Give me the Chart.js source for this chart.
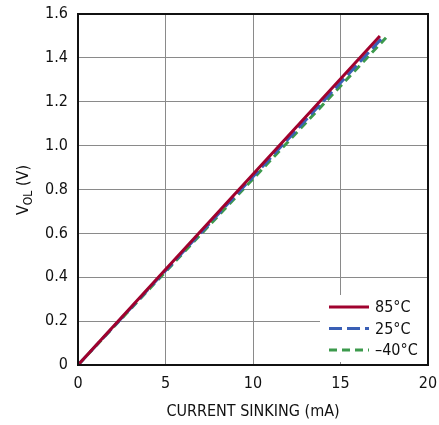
<!DOCTYPE html>
<html>
<head>
<meta charset="utf-8">
<script src="https://cdn.jsdelivr.net/npm/chart.js@4/dist/chart.umd.min.js"></script>
<style>
  html, body { margin: 0; padding: 0; background: #fff; }
  #wrap { width: 439px; height: 425px; }
</style>
</head>
<body>
<div id="wrap"><canvas id="chart" width="439" height="425"></canvas></div>
<script>
/* ---------- DATA ---------- */
const seriesLabels = ['85°C', '25°C', '–40°C'];
const currentMa = [
  [0, 5, 10, 17.25],
  [0, 5, 10, 17.45],
  [0, 5, 10, 17.6]
];
const volOut = [
  [0, 0.435, 0.87, 1.50],
  [0, 0.43, 0.858, 1.497],
  [0, 0.425, 0.848, 1.492]
];
const xTicks = [0, 5, 10, 15, 20];
const yTicks = [0, 0.2, 0.4, 0.6, 0.8, 1.0, 1.2, 1.4, 1.6];

const colors = ['#a0022e', '#3a5fb5', '#3c9a4c'];
const dashes = [[], [13, 5], [8, 5]];
const FONT = "'Liberation Sans Narrow', 'DejaVu Sans Condensed', 'Liberation Sans', Arial, sans-serif";

/* ---------- CUSTOM DRAWING (legend, y title, frame) ---------- */
const extras = {
  id: 'extras',
  afterDraw(chart) {
    const { ctx, chartArea: a } = chart;
    ctx.save();

    // legend area (white, no border)
    const bx = 320, by = 295;
    ctx.fillStyle = '#fff';
    ctx.fillRect(bx, by, a.right - bx, a.bottom - 3 - by);
    ctx.font = '16px ' + FONT;
    ctx.textBaseline = 'middle';
    seriesLabels.forEach((lbl, i) => {
      const y = 307 + i * 21.5;
      ctx.strokeStyle = colors[i];
      ctx.lineWidth = 3;
      ctx.setLineDash(dashes[i]);
      ctx.beginPath();
      ctx.moveTo(329, y);
      ctx.lineTo(369, y);
      ctx.stroke();
      ctx.setLineDash([]);
      ctx.fillStyle = '#111';
      ctx.textAlign = 'left';
      ctx.fillText(lbl, 375, y + 1);
    });

    // frame
    ctx.strokeStyle = '#111';
    ctx.lineWidth = 2;
    ctx.strokeRect(a.left, a.top, a.right - a.left, a.bottom - a.top);

    // y title V_OL (V)
    ctx.translate(22, 190);
    ctx.rotate(-Math.PI / 2);
    ctx.fillStyle = '#111';
    ctx.textBaseline = 'alphabetic';
    const p1 = 'V', p3 = ' (V)';
    ctx.font = '12px ' + FONT;
    const w2 = ctx.measureText('OL').width;
    ctx.font = '16px ' + FONT;
    const w1 = ctx.measureText(p1).width, w3 = ctx.measureText(p3).width;
    let x = -(w1 + w2 + w3) / 2;
    ctx.textAlign = 'left';
    ctx.fillText(p1, x, 6); x += w1;
    ctx.font = '12px ' + FONT;
    ctx.fillText('OL', x, 10); x += w2;
    ctx.font = '16px ' + FONT;
    ctx.fillText(p3, x, 6);

    ctx.restore();
  }
};

/* ---------- CHART ---------- */
new Chart(document.getElementById('chart'), {
  type: 'scatter',
  data: {
    datasets: seriesLabels.map((lbl, i) => ({
      label: lbl,
      data: currentMa[i].map((x, j) => ({ x, y: volOut[i][j] })),
      showLine: true,
      borderColor: colors[i],
      borderDash: dashes[i],
      borderWidth: 3,
      pointRadius: 0,
      fill: false
    }))
  },
  options: {
    responsive: false,
    animation: false,
    layout: { padding: { top: 14, right: 11, left: 0, bottom: 0 } },
    plugins: { legend: { display: false }, tooltip: { enabled: false } },
    scales: {
      x: {
        type: 'linear', min: 0, max: 20,
        afterBuildTicks: s => { s.ticks = xTicks.map(v => ({ value: v })); },
        afterFit: s => { s.height = 60; s.paddingLeft = 0; s.paddingRight = 0; },
        ticks: { color: '#111', font: { family: FONT, size: 16 }, padding: 9 },
        grid: { color: '#8a8a8a', lineWidth: 1, drawTicks: false },
        border: { display: false },
        title: { display: true, text: 'CURRENT SINKING (mA)', color: '#111',
                 font: { family: FONT, size: 16 }, padding: { top: 2, bottom: 4 } }
      },
      y: {
        type: 'linear', min: 0, max: 1.6,
        afterBuildTicks: s => { s.ticks = yTicks.map(v => ({ value: v })); },
        afterFit: s => { s.width = 78; s.paddingTop = 0; s.paddingBottom = 0; },
        ticks: { color: '#111', font: { family: FONT, size: 16 }, padding: 10,
                 callback: v => v === 0 ? '0' : v.toFixed(1) },
        grid: { color: '#8a8a8a', lineWidth: 1, drawTicks: false },
        border: { display: false }
      }
    }
  },
  plugins: [extras]
});
</script>
</body>
</html>
